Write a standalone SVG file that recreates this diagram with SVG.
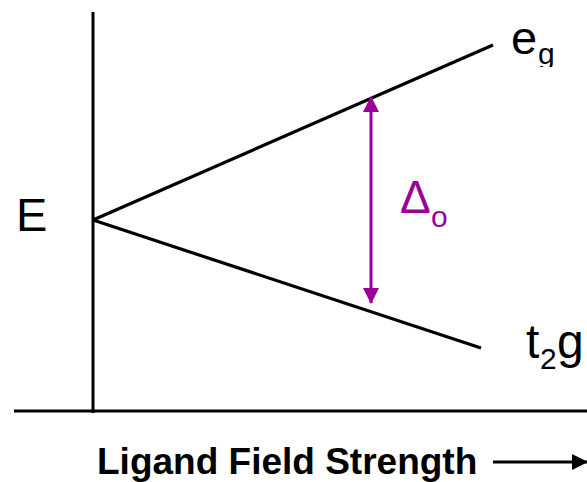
<svg xmlns="http://www.w3.org/2000/svg" width="587" height="482" viewBox="0 0 587 482">
<style>
.ax{stroke:#000;stroke-width:3;fill:none}
.lv{stroke:#000;stroke-width:3.2;fill:none}
.t{font-family:"Liberation Sans",Arial,sans-serif;fill:#000}
.p{font-family:"Liberation Sans",Arial,sans-serif;fill:#990099}
</style>
<defs>
<marker id="ph" viewBox="0 0 16 16" refX="15" refY="8" markerWidth="16" markerHeight="16" markerUnits="userSpaceOnUse" orient="auto-start-reverse">
<path d="M0,0 L16,8 L0,16 Z" fill="#990099"/>
</marker>
<marker id="bh" viewBox="0 0 16 16" refX="15" refY="8" markerWidth="16" markerHeight="16" markerUnits="userSpaceOnUse" orient="auto">
<path d="M0,0 L16,8 L0,16 Z" fill="#000"/>
</marker>
<clipPath id="egclip"><rect x="530" y="0" width="57" height="67"/></clipPath>
</defs>
<g id="axes">
<line class="ax" x1="93" y1="12" x2="93" y2="413"/>
<line class="ax" x1="14" y1="411" x2="587" y2="411"/>
</g>
<g id="connectors">
<line class="lv" x1="93" y1="220" x2="493" y2="45"/>
<line class="lv" x1="93" y1="220" x2="481" y2="348"/>
<line stroke="#990099" stroke-width="3" x1="371" y1="97" x2="371" y2="303" marker-start="url(#ph)" marker-end="url(#ph)"/>
<line stroke="#000" stroke-width="3" x1="493" y1="462" x2="587" y2="462" marker-end="url(#bh)"/>
</g>
<g id="E"><text class="t" x="16" y="231" font-size="47">E</text></g>
<g id="eg"><text class="t" x="511" y="54" font-size="47">e</text><text class="t" x="538" y="64" font-size="30" clip-path="url(#egclip)">g</text></g>
<g id="t2g"><text class="t" x="526" y="358" font-size="48">t</text><text class="t" x="540" y="369" font-size="30">2</text><text class="t" x="557" y="358" font-size="48">g</text></g>
<g id="delta"><text class="p" x="400" y="213" font-size="46">Δ</text><text class="p" x="431" y="227" font-size="30">o</text></g>
<g id="xlabel"><text class="t" x="97" y="474" font-size="37" font-weight="bold">Ligand Field Strength</text></g>
</svg>
